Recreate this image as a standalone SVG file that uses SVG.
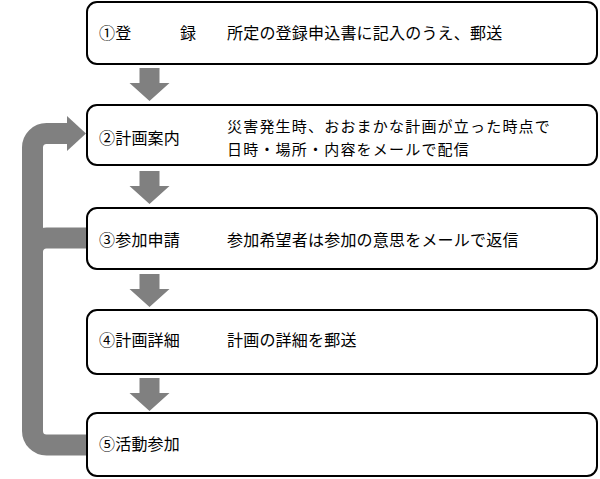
<svg xmlns="http://www.w3.org/2000/svg" xmlns:xlink="http://www.w3.org/1999/xlink" width="600" height="479" viewBox="0 0 600 479">
<style>
.box{fill:#fff;stroke:#000;stroke-width:2}
.t{font-family:"Noto Sans CJK JP","Noto Sans CJK SC",sans-serif;font-size:16px;letter-spacing:0.2px;fill:#000}
.t2{font-size:15px;letter-spacing:1.2px}
.arr{fill:#808080}
.loop{fill:none;stroke:#808080;stroke-width:21}
</style>
<defs>
<path id="down" d="M -10 0 H 10 V 15 H 20 L 0 33 L -20 15 H -10 Z"/>
</defs>
<rect width="600" height="479" fill="#fff"/>
<g id="connectors">
<use href="#down" xlink:href="#down" class="arr" transform="translate(149.5,68)"/>
<use href="#down" xlink:href="#down" class="arr" transform="translate(149.5,171)"/>
<use href="#down" xlink:href="#down" class="arr" transform="translate(149.5,274)"/>
<use href="#down" xlink:href="#down" class="arr" transform="translate(149.5,378)"/>
<path class="loop" d="M 88 445 H 46.5 A 14 14 0 0 1 32.5 431 V 147.5 A 14 14 0 0 1 46.5 133.5 H 68"/>
<path class="loop" d="M 88 238 H 46.5 A 14 14 0 0 0 32.5 252 V 262"/>
<polygon class="arr" points="67,116 86,133.5 67,151"/>
</g>
<g id="node1">
<rect class="box" x="87" y="2" width="510" height="62" rx="10"/>
<text class="t" x="99" y="39">①登<tspan x="180">録</tspan></text>
<text class="t" x="227" y="39">所定の登録申込書に記入のうえ、郵送</text>
</g>
<g id="node2">
<rect class="box" x="87" y="105" width="510" height="60" rx="10"/>
<text class="t" x="99" y="144">②計画案内</text>
<text class="t t2" x="227" y="132">災害発生時、おおまかな計画が立った時点で</text>
<text class="t t2" x="227" y="154.5">日時・場所・内容をメールで配信</text>
</g>
<g id="node3">
<rect class="box" x="87" y="208" width="510" height="61" rx="10"/>
<text class="t" x="99" y="246">③参加申請</text>
<text class="t" x="227" y="246">参加希望者は参加の意思をメールで返信</text>
</g>
<g id="node4">
<rect class="box" x="87" y="310" width="510" height="64" rx="10"/>
<text class="t" x="99" y="346">④計画詳細</text>
<text class="t" x="227" y="346">計画の詳細を郵送</text>
</g>
<g id="node5">
<rect class="box" x="87" y="413" width="510" height="63" rx="10"/>
<text class="t" x="99" y="450">⑤活動参加</text>
</g>
</svg>
